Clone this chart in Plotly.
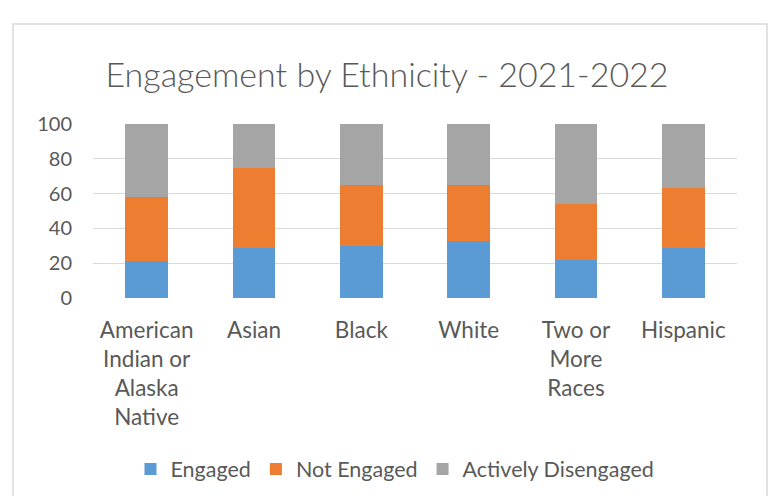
import plotly.graph_objects as go

categories = ["American<br>Indian or<br>Alaska<br>Native", "Asian", "Black", "White",
              "Two or<br>More<br>Races", "Hispanic"]
engaged = [21, 29, 30, 33, 22, 29]
not_engaged = [37, 46, 35, 32, 32, 34]
actively_disengaged = [42, 25, 35, 35, 46, 37]
y_ticks = [0, 20, 40, 60, 80, 100]

W, H = 774, 496
L, R, T, B = 93, 37, 124, 198

fig = go.Figure()
for name, vals, col in [("Engaged", engaged, "#5B9BD5"),
                        ("Not Engaged", not_engaged, "#ED7D31"),
                        ("Actively Disengaged", actively_disengaged, "#A5A5A5")]:
    fig.add_trace(go.Bar(x=list(range(len(categories))), y=vals, name=name,
                         marker=dict(color=col, line=dict(width=0))))

fig.update_layout(
    width=W, height=H, barmode="stack", bargap=0.6,
    margin=dict(l=L, r=R, t=T, b=B, pad=0, autoexpand=False),
    paper_bgcolor="white", plot_bgcolor="white",
    font=dict(family="Lato, 'Open Sans', sans-serif", color="#595959", size=20),
    title=dict(text="Engagement by Ethnicity - 2021-2022", x=0.5, xanchor="center",
               y=1 - 75 / H, yanchor="middle",
               font=dict(size=34, color="#595959", weight=300)),
    xaxis=dict(tickmode="array", tickvals=list(range(len(categories))), ticktext=categories,
               range=[-0.5, 5.5], showgrid=False, zeroline=False, showline=False,
               ticks="", tickfont=dict(size=22.5), ticklabelstandoff=16, automargin=False),
    yaxis=dict(range=[0, 100], tickvals=y_ticks, showgrid=True, gridcolor="#D9D9D9",
               gridwidth=1.3, zeroline=False, showline=False, ticks="",
               tickfont=dict(size=20), ticklabelstandoff=20, automargin=False),
    legend=dict(orientation="h", x=0.5 - 20 / (W - L - R), xanchor="center",
                y=-(469 - (H - B)) / (H - T - B),
                yanchor="middle", font=dict(size=21.5), traceorder="normal",
                itemwidth=30),
    shapes=[dict(type="rect", xref="paper", yref="paper",
                 x0=-(L - 13) / (W - L - R), x1=1 + (767 - (W - R)) / (W - L - R),
                 y0=-(B + 12) / (H - T - B), y1=1 + (T - 24) / (H - T - B),
                 line=dict(color="#D9D9D9", width=1.5), layer="below")],
    showlegend=True,
)

fig.write_html("out.html", config={"displayModeBar": False},
               post_script="document.body.style.margin='0';")
